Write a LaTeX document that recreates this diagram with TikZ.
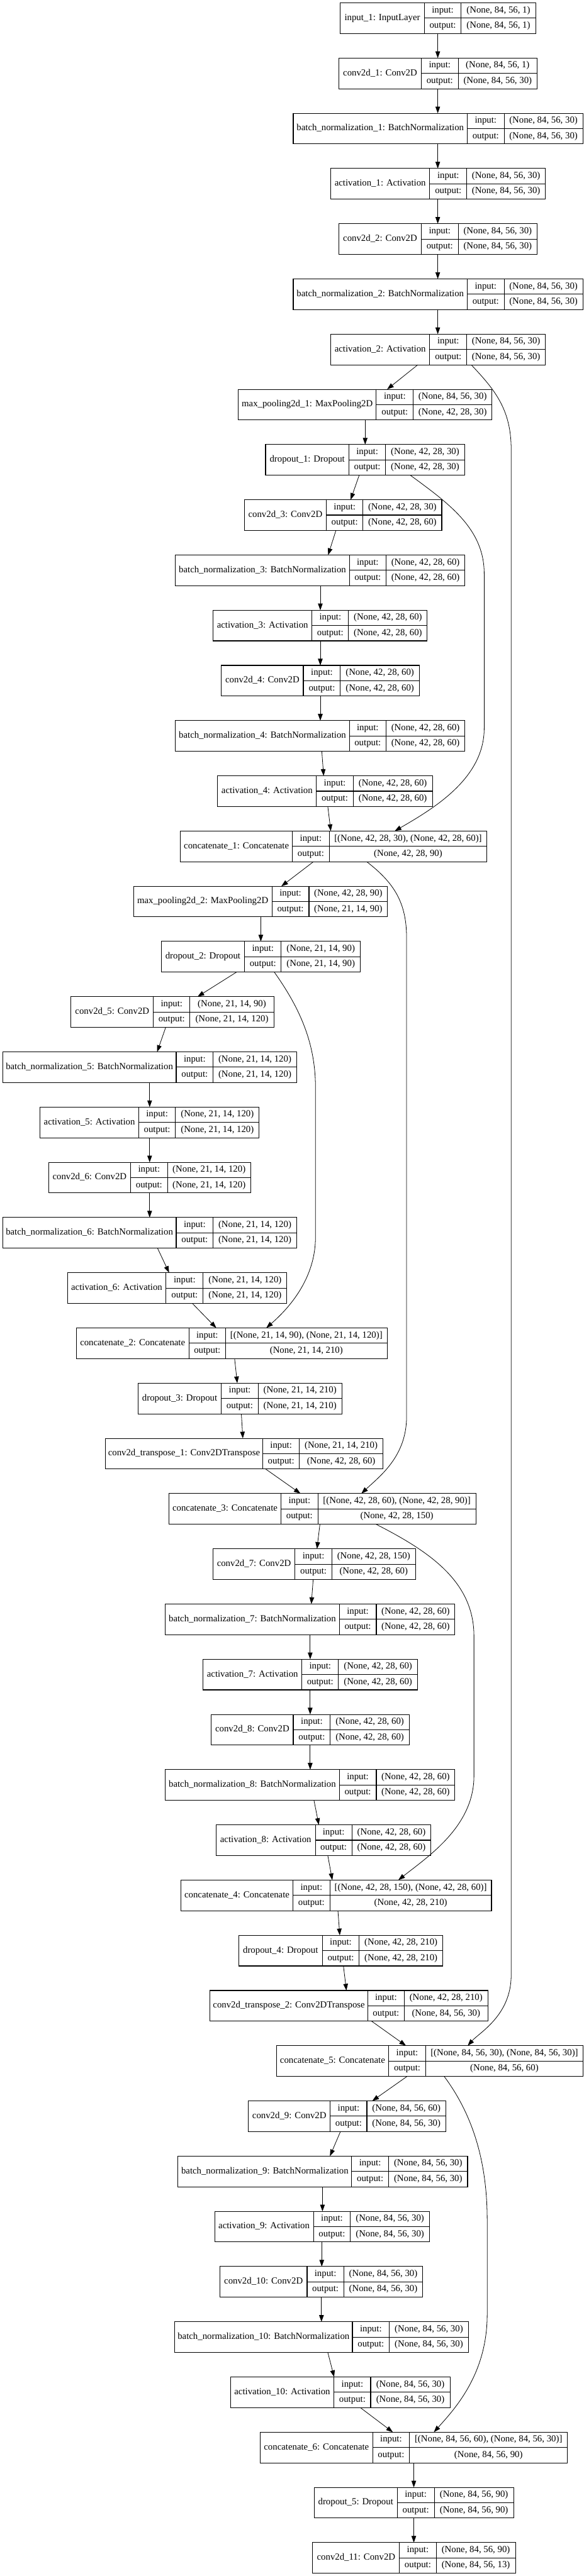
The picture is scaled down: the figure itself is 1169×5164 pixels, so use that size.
\documentclass[tikz,border=0pt]{standalone}
\usepackage{fontspec}
\setmainfont{Liberation Serif}
\usetikzlibrary{arrows.meta}
\tikzset{
 box/.style={draw, line width=1pt, inner sep=0pt, outer sep=0pt, minimum height=46.125pt, anchor=north west},
 sep/.style={line width=1pt},
 txt/.style={inner sep=0pt, font=\fontsize{14}{16}\selectfont, text height=9.5pt, text depth=3pt},
 e/.style={line width=0.75pt, -{Triangle[length=10pt,width=7pt]}},
}
\newcommand\mklayer[9]{%
 \pgfmathsetmacro\lT{5.7+#2*110.68}%
 \pgfmathsetmacro\lB{\lT+61.5}%
 \pgfmathsetmacro\lM{\lT+30.75}%
 \pgfmathsetmacro\lU{\lT+15.375}%
 \pgfmathsetmacro\lD{\lT+46.125}%
 \node[box, minimum width={(#6-#3)*0.75pt}] (#1) at (#3,\lT) {};
 \draw[sep] (#4,\lT) -- (#4,\lB) (#5,\lT) -- (#5,\lB) (#4,\lM) -- (#6,\lM);
 \node[txt] (#1-n) at ({(#3+#4)/2},\lM) {#7};
 \node[txt] (#1-il) at ({(#4+#5)/2},\lU) {input:};
 \node[txt] (#1-iv) at ({(#5+#6)/2},\lU) {#8};
 \node[txt] (#1-ol) at ({(#4+#5)/2},\lD) {output:};
 \node[txt] (#1-ov) at ({(#5+#6)/2},\lD) {#9};
}
\newcommand\edg[4]{\draw[e] (#1.south -| #2,0) -- (#3.north -| #4,0);}
\begin{document}
\begin{tikzpicture}[x=0.75pt,y=-0.75pt]
\useasboundingbox (0,0) rectangle (1169,5164);
\mklayer{in1}{0}{682}{850}{924}{1073}{input\_1: InputLayer}{(None, 84, 56, 1)}{(None, 84, 56, 1)}
\mklayer{c1}{1}{679}{844}{918}{1076}{conv2d\_1: Conv2D}{(None, 84, 56, 1)}{(None, 84, 56, 30)}
\mklayer{bn1}{2}{587.5}{936}{1010}{1167.5}{batch\_normalization\_1: BatchNormalization}{(None, 84, 56, 30)}{(None, 84, 56, 30)}
\mklayer{a1}{3}{662.4}{861}{935}{1092.6}{activation\_1: Activation}{(None, 84, 56, 30)}{(None, 84, 56, 30)}
\mklayer{c2}{4}{679}{844}{918}{1076}{conv2d\_2: Conv2D}{(None, 84, 56, 30)}{(None, 84, 56, 30)}
\mklayer{bn2}{5}{587.5}{936}{1010}{1167.5}{batch\_normalization\_2: BatchNormalization}{(None, 84, 56, 30)}{(None, 84, 56, 30)}
\mklayer{a2}{6}{662.4}{861}{935}{1092.6}{activation\_2: Activation}{(None, 84, 56, 30)}{(None, 84, 56, 30)}
\mklayer{mp1}{7}{477.3}{753.8}{828}{985.4}{max\_pooling2d\_1: MaxPooling2D}{(None, 84, 56, 30)}{(None, 42, 28, 30)}
\mklayer{d1}{8}{532}{699}{772.6}{930.7}{dropout\_1: Dropout}{(None, 42, 28, 30)}{(None, 42, 28, 30)}
\mklayer{c3}{9}{489.3}{654}{727}{885}{conv2d\_3: Conv2D}{(None, 42, 28, 30)}{(None, 42, 28, 60)}
\mklayer{bn3}{10}{351.4}{700}{773.3}{931.4}{batch\_normalization\_3: BatchNormalization}{(None, 42, 28, 60)}{(None, 42, 28, 60)}
\mklayer{a3}{11}{427}{625}{698.4}{855.8}{activation\_3: Activation}{(None, 42, 28, 60)}{(None, 42, 28, 60)}
\mklayer{c4}{12}{443.6}{607.7}{682}{840}{conv2d\_4: Conv2D}{(None, 42, 28, 60)}{(None, 42, 28, 60)}
\mklayer{bn4}{13}{351.4}{700}{773.3}{931.4}{batch\_normalization\_4: BatchNormalization}{(None, 42, 28, 60)}{(None, 42, 28, 60)}
\mklayer{a4}{14}{436}{634}{707.4}{866.3}{activation\_4: Activation}{(None, 42, 28, 60)}{(None, 42, 28, 60)}
\mklayer{cat1}{15}{361.2}{586}{659.4}{975.7}{concatenate\_1: Concatenate}{[(None, 42, 28, 30), (None, 42, 28, 60)]}{(None, 42, 28, 90)}
\mklayer{mp2}{16}{267.5}{544.8}{619}{776.3}{max\_pooling2d\_2: MaxPooling2D}{(None, 42, 28, 90)}{(None, 21, 14, 90)}
\mklayer{d2}{17}{323}{490}{563.5}{721.6}{dropout\_2: Dropout}{(None, 21, 14, 90)}{(None, 21, 14, 90)}
\mklayer{c5}{18}{142.4}{307.2}{380.7}{548.5}{conv2d\_5: Conv2D}{(None, 21, 14, 90)}{(None, 21, 14, 120)}
\mklayer{bn5}{19}{5.2}{353}{427}{594.2}{batch\_normalization\_5: BatchNormalization}{(None, 21, 14, 120)}{(None, 21, 14, 120)}
\mklayer{a5}{20}{80.2}{278}{351.4}{519.3}{activation\_5: Activation}{(None, 21, 14, 120)}{(None, 21, 14, 120)}
\mklayer{c6}{21}{97.4}{261.5}{335.7}{502}{conv2d\_6: Conv2D}{(None, 21, 14, 120)}{(None, 21, 14, 120)}
\mklayer{bn6}{22}{5.2}{353}{427}{594.2}{batch\_normalization\_6: BatchNormalization}{(None, 21, 14, 120)}{(None, 21, 14, 120)}
\mklayer{a6}{23}{135}{332.7}{407}{574.8}{activation\_6: Activation}{(None, 21, 14, 120)}{(None, 21, 14, 120)}
\mklayer{cat2}{24}{152.9}{378.4}{451.9}{775.6}{concatenate\_2: Concatenate}{[(None, 21, 14, 90), (None, 21, 14, 120)]}{(None, 21, 14, 210)}
\mklayer{d3}{25}{276.5}{443.6}{517}{685}{dropout\_3: Dropout}{(None, 21, 14, 210)}{(None, 21, 14, 210)}
\mklayer{ct1}{26}{210.6}{526.8}{599.5}{767.3}{conv2d\_transpose\_1: Conv2DTranspose}{(None, 21, 14, 210)}{(None, 42, 28, 60)}
\mklayer{cat3}{27}{338.7}{562.8}{637}{953.2}{concatenate\_3: Concatenate}{[(None, 42, 28, 60), (None, 42, 28, 90)]}{(None, 42, 28, 150)}
\mklayer{c7}{28}{426.4}{591.2}{664.7}{832.5}{conv2d\_7: Conv2D}{(None, 42, 28, 150)}{(None, 42, 28, 60)}
\mklayer{bn7}{29}{331.2}{679.7}{753.9}{911.2}{batch\_normalization\_7: BatchNormalization}{(None, 42, 28, 60)}{(None, 42, 28, 60)}
\mklayer{a7}{30}{407}{604.7}{678.2}{836.3}{activation\_7: Activation}{(None, 42, 28, 60)}{(None, 42, 28, 60)}
\mklayer{c8}{31}{423.4}{587.5}{661.7}{819.8}{conv2d\_8: Conv2D}{(None, 42, 28, 60)}{(None, 42, 28, 60)}
\mklayer{bn8}{32}{331.2}{679.7}{753.9}{911.2}{batch\_normalization\_8: BatchNormalization}{(None, 42, 28, 60)}{(None, 42, 28, 60)}
\mklayer{a8}{33}{433}{631.7}{705}{863.3}{activation\_8: Activation}{(None, 42, 28, 60)}{(None, 42, 28, 60)}
\mklayer{cat4}{34}{362.7}{586.7}{661}{984.6}{concatenate\_4: Concatenate}{[(None, 42, 28, 150), (None, 42, 28, 60)]}{(None, 42, 28, 210)}
\mklayer{d4}{35}{478}{646}{719.4}{887.2}{dropout\_4: Dropout}{(None, 42, 28, 210)}{(None, 42, 28, 210)}
\mklayer{ct2}{36}{421}{736.6}{810}{977.2}{conv2d\_transpose\_2: Conv2DTranspose}{(None, 42, 28, 210)}{(None, 84, 56, 30)}
\mklayer{cat5}{37}{553.8}{778.6}{852.8}{1168}{concatenate\_5: Concatenate}{[(None, 84, 56, 30), (None, 84, 56, 30)]}{(None, 84, 56, 60)}
\mklayer{c9}{38}{497.6}{661.7}{735}{893.2}{conv2d\_9: Conv2D}{(None, 84, 56, 60)}{(None, 84, 56, 30)}
\mklayer{bn9}{39}{356.7}{704.4}{778.6}{936.7}{batch\_normalization\_9: BatchNormalization}{(None, 84, 56, 30)}{(None, 84, 56, 30)}
\mklayer{a9}{40}{430}{628}{702}{860.3}{activation\_9: Activation}{(None, 84, 56, 30)}{(None, 84, 56, 30)}
\mklayer{c10}{41}{440.6}{615.2}{688.7}{846.8}{conv2d\_10: Conv2D}{(None, 84, 56, 30)}{(None, 84, 56, 30)}
\mklayer{bn10}{42}{350}{706}{780}{938.2}{batch\_normalization\_10: BatchNormalization}{(None, 84, 56, 30)}{(None, 84, 56, 30)}
\mklayer{a10}{43}{461.6}{669.2}{742.6}{901.5}{activation\_10: Activation}{(None, 84, 56, 30)}{(None, 84, 56, 30)}
\mklayer{cat6}{44}{521.5}{746.4}{820.5}{1136.8}{concatenate\_6: Concatenate}{[(None, 84, 56, 60), (None, 84, 56, 30)]}{(None, 84, 56, 90)}
\mklayer{d5}{45}{629.5}{795.8}{870}{1029}{dropout\_5: Dropout}{(None, 84, 56, 90)}{(None, 84, 56, 90)}
\mklayer{c11}{46}{626.5}{800.3}{873.8}{1032.6}{conv2d\_11: Conv2D}{(None, 84, 56, 90)}{(None, 84, 56, 13)}
% straight connectors
\edg{in1}{877}{c1}{877}
\edg{c1}{877}{bn1}{877}
\edg{bn1}{877}{a1}{877}
\edg{a1}{877}{c2}{877}
\edg{c2}{877}{bn2}{877}
\edg{bn2}{877}{a2}{877}
\edg{a2}{837}{mp1}{775.6}
\edg{mp1}{731.6}{d1}{731.6}
\edg{d1}{719.6}{c3}{702.4}
\edg{c3}{673}{bn3}{657.4}
\edg{bn3}{641.7}{a3}{641.7}
\edg{a3}{641.7}{c4}{641.7}
\edg{c4}{641.7}{bn4}{641.7}
\edg{bn4}{644.7}{a4}{648.4}
\edg{a4}{656.7}{cat1}{662.7}
\edg{cat1}{628}{mp2}{563.7}
\edg{mp2}{522.5}{d2}{522.5}
\edg{d2}{473.8}{c5}{395.8}
\edg{c5}{332}{bn5}{314.8}
\edg{bn5}{299.8}{a5}{299.8}
\edg{a5}{299.8}{c6}{299.8}
\edg{c6}{299.8}{bn6}{299.8}
\edg{bn6}{315.6}{a6}{338.8}
\edg{a6}{385.3}{cat2}{433.3}
\edg{cat2}{470}{d3}{475.3}
\edg{d3}{483.5}{ct1}{486.5}
\edg{ct1}{532.2}{cat3}{602}
\edg{cat3}{640.9}{c7}{635}
\edg{c7}{627.4}{bn7}{623.7}
\edg{bn7}{621.4}{a7}{621.4}
\edg{a7}{621.4}{c8}{621.4}
\edg{c8}{621.4}{bn8}{621.4}
\edg{bn8}{629}{a8}{638.7}
\edg{a8}{656.7}{cat4}{665.7}
\edg{cat4}{677}{d4}{680.7}
\edg{d4}{688}{ct2}{694}
\edg{ct2}{744.4}{cat5}{813.3}
\edg{cat5}{815.6}{c9}{745.8}
\edg{c9}{682}{bn9}{661}
\edg{bn9}{646}{a9}{646}
\edg{a9}{644.6}{c10}{644.6}
\edg{c10}{644}{bn10}{644}
\edg{bn10}{656.7}{a10}{669.4}
\edg{a10}{721.9}{cat6}{787}
\edg{cat6}{829}{d5}{829}
\edg{d5}{829}{c11}{829}
% skip connectors
\draw[e] (a2.south -| 944,0) .. controls (990,780) and (1024,820) .. (1024,900) -- (1024,3960) .. controls (1024,4040) and (960,4075) .. (cat5.north -| 937,0);
\draw[e] (d1.south -| 822,0) .. controls (900,1010) and (970,1060) .. (970,1150) -- (970,1460) .. controls (970,1560) and (870,1620) .. (cat1.north -| 790.8,0);
\draw[e] (cat1.south -| 734.6,0) .. controls (790,1770) and (814.5,1810) .. (814.5,1880) -- (814.5,2840) .. controls (814.5,2920) and (760,2960) .. (cat3.north -| 724,0);
\draw[e] (d2.south -| 549.5,0) .. controls (600,2020) and (632,2090) .. (632,2180) -- (632,2480) .. controls (632,2570) and (570,2630) .. (cat2.north -| 533.5,0);
\draw[e] (cat3.south -| 753.3,0) .. controls (860,3110) and (949.5,3170) .. (949.5,3280) -- (949.5,3560) .. controls (949.5,3660) and (860,3720) .. (cat4.north -| 798,0);
\draw[e] (cat5.south -| 889.8,0) .. controls (940,4230) and (976,4320) .. (976,4450) -- (976,4640) .. controls (976,4760) and (910,4830) .. (cat6.north -| 869.2,0);
\end{tikzpicture}
\end{document}
